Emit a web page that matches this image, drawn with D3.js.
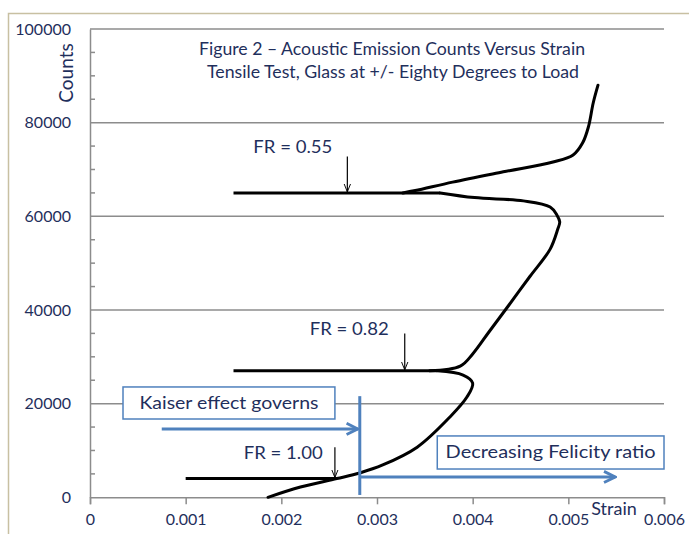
<!DOCTYPE html>
<html lang="en">
<head>
    <meta charset="utf-8">
    <script type="text/javascript" src="https://d3js.org/d3.v7.min.js"></script>
    <style>
        body { margin: 0; background: #fff; }
        text { font-family: Lato, "Open Sans", sans-serif; fill: #1f2f5c; }
    </style>
</head>

<body>
    <script type="text/javascript">
        // SVG width and height
        let w = 689;
        let h = 534;

        // Axis ticks
        let xTicks = [0, 0.001, 0.002, 0.003, 0.004, 0.005, 0.006];
        let xTickLabels = ["0", "0.001", "0.002", "0.003", "0.004", "0.005", "0.006"];
        let yTicks = [0, 20000, 40000, 60000, 80000, 100000];
        let yTickLabels = ["0", "20000", "40000", "60000", "80000", "100000"];

        // First loading branch: from start up to the 27000 count hold
        let strain1 = [0.00186, 0.00220, 0.00258, 0.00282, 0.00306, 0.00342, 0.00376, 0.00394, 0.00400, 0.00390, 0.00363];
        let counts1 = [0, 2200, 4000, 5200, 6900, 10700, 17100, 21400, 24400, 26100, 27000];

        // Second branch: from 27000 up to the 65000 count hold
        let strain2 = [0.00355, 0.00387, 0.00400, 0.00417, 0.00437, 0.00460, 0.00481, 0.00489, 0.00491, 0.00488, 0.00481, 0.00453, 0.00402, 0.00366];
        let counts2 = [27000, 28000, 30600, 35300, 40800, 47200, 53000, 57300, 58800, 60300, 62000, 63300, 64000, 65000];

        // Third branch: from 65000 to the end
        let strain3 = [0.00327, 0.00340, 0.00379, 0.00432, 0.00484, 0.00505, 0.00515, 0.00521, 0.00526, 0.00531];
        let counts3 = [65000, 65500, 67300, 69500, 71600, 73100, 75700, 79100, 84200, 88000];

        // Unload / reload holds (constant counts)
        let holdCounts = [4000, 27000, 65000];
        let holdStrainMin = [0.00100, 0.00150, 0.00150];
        let holdStrainMax = [0.00258, 0.00363, 0.00366];

        // Felicity ratio call-outs
        let frLabels = ["FR = 1.00", "FR = 0.82", "FR = 0.55"];
        let frStrain = [0.00256, 0.00329, 0.00269];
        let frArrowTop = [10700, 35000, 72800];
        let frLabelStrain = [0.00202, 0.00271, 0.00212];
        let frLabelCounts = [8200, 34700, 73500];

        // Kaiser / Felicity divider
        let dividerStrain = 0.00282;

        // Create SVG element
        let svg = d3.select("body").append("svg")
                    .attr("width", w)
                    .attr("height", h);

        // Outer chart frame
        svg.append("rect")
            .attr("x", 8.5).attr("y", 13.5)
            .attr("width", w).attr("height", h)
            .attr("fill", "none")
            .attr("stroke", "#c8c0a2")
            .attr("stroke-width", 1.5);

        // Scales
        let x = d3.scaleLinear().domain([0, 0.006]).range([90, 664]);
        let y = d3.scaleLinear().domain([0, 100000]).range([497.3, 29]);

        // Gridlines
        svg.selectAll(".grid")
            .data(yTicks.slice(1))
            .join("line")
                .attr("class", "grid")
                .attr("x1", x(0)).attr("x2", x(0.006))
                .attr("y1", d => y(d)).attr("y2", d => y(d))
                .attr("stroke", "#8c8c8c")
                .attr("stroke-width", 1.5);

        // Minor ticks on y axis (inside)
        let minor = d3.range(5000, 100000, 5000).filter(d => d % 20000 != 0);
        svg.selectAll(".minor")
            .data(minor)
            .join("line")
                .attr("class", "minor")
                .attr("x1", x(0)).attr("x2", x(0) + 5)
                .attr("y1", d => y(d)).attr("y2", d => y(d))
                .attr("stroke", "#8c8c8c")
                .attr("stroke-width", 1.5);

        // X axis
        let xAxis = svg.append("g")
            .attr("transform", "translate(0," + y(0) + ")")
            .call(d3.axisBottom(x)
                .tickValues(xTicks)
                .tickSize(7)
                .tickFormat((d, i) => xTickLabels[i]));
        xAxis.select(".domain").attr("stroke", "#8c8c8c").attr("stroke-width", 1.5);
        xAxis.selectAll(".tick line").attr("stroke", "#8c8c8c").attr("stroke-width", 1.5);
        xAxis.selectAll(".tick text")
            .attr("y", 28).attr("dy", 0)
            .attr("font-size", "16px")
            .attr("fill", "#1f2f5c")
            .style("font-family", "Lato, sans-serif");

        // Y axis
        let yAxis = svg.append("g")
            .attr("transform", "translate(" + x(0) + ",0)")
            .call(d3.axisLeft(y)
                .tickValues(yTicks)
                .tickSize(0)
                .tickPadding(19)
                .tickFormat((d, i) => yTickLabels[i]));
        yAxis.select(".domain").attr("stroke", "#8c8c8c").attr("stroke-width", 1.5);
        yAxis.selectAll(".tick text")
            .attr("font-size", "16px")
            .attr("fill", "#1f2f5c")
            .style("font-family", "Lato, sans-serif");

        // Axis titles
        svg.append("text")
            .attr("transform", "translate(73,73) rotate(-90)")
            .attr("text-anchor", "middle")
            .attr("font-size", "19px")
            .text("Counts");
        svg.append("text")
            .attr("x", 614).attr("y", 515)
            .attr("text-anchor", "middle")
            .attr("font-size", "18px")
            .text("Strain");

        // Chart title
        svg.append("text")
            .attr("x", 392).attr("y", 55)
            .attr("text-anchor", "middle")
            .attr("font-size", "17px")
            .attr("textLength", 386)
            .attr("lengthAdjust", "spacingAndGlyphs")
            .text("Figure 2 \u2013 Acoustic Emission Counts Versus Strain");
        svg.append("text")
            .attr("x", 393).attr("y", 78)
            .attr("text-anchor", "middle")
            .attr("font-size", "17px")
            .attr("textLength", 372)
            .attr("lengthAdjust", "spacingAndGlyphs")
            .text("Tensile Test, Glass at +/- Eighty Degrees to Load");

        // Curve line generator
        let line = d3.line()
            .x(d => x(d[0]))
            .y(d => y(d[1]))
            .curve(d3.curveCatmullRom.alpha(0.5));

        let branches = [
            d3.zip(strain1, counts1),
            d3.zip(strain2, counts2),
            d3.zip(strain3, counts3)
        ];

        svg.selectAll(".hold")
            .data(holdCounts)
            .join("line")
                .attr("class", "hold")
                .attr("x1", (d, i) => x(holdStrainMin[i]))
                .attr("x2", (d, i) => x(holdStrainMax[i]))
                .attr("y1", d => y(d)).attr("y2", d => y(d))
                .attr("stroke", "#000")
                .attr("stroke-width", 3);

        svg.selectAll(".branch")
            .data(branches)
            .join("path")
                .attr("class", "branch")
                .attr("d", line)
                .attr("fill", "none")
                .attr("stroke", "#000")
                .attr("stroke-width", 3)
                .attr("stroke-linecap", "round");

        // Arrow markers
        let defs = svg.append("defs");
        defs.append("marker")
            .attr("id", "blackHead")
            .attr("markerUnits", "userSpaceOnUse")
            .attr("viewBox", "0 0 10 10")
            .attr("refX", 10).attr("refY", 5)
            .attr("markerWidth", 8).attr("markerHeight", 8)
            .attr("orient", "auto")
            .append("path")
                .attr("d", "M0,1 L10,5 L0,9")
                .attr("fill", "none")
                .attr("stroke", "#000")
                .attr("stroke-width", 1.2);
        defs.append("marker")
            .attr("id", "blueHead")
            .attr("markerUnits", "userSpaceOnUse")
            .attr("viewBox", "0 0 10 10")
            .attr("refX", 9).attr("refY", 5)
            .attr("markerWidth", 14).attr("markerHeight", 14)
            .attr("orient", "auto")
            .append("path")
                .attr("d", "M1,1 L9,5 L1,9")
                .attr("fill", "none")
                .attr("stroke", "#4f81bd")
                .attr("stroke-width", 2);

        // FR arrows and labels
        svg.selectAll(".frArrow")
            .data(frLabels)
            .join("line")
                .attr("class", "frArrow")
                .attr("x1", (d, i) => x(frStrain[i]))
                .attr("x2", (d, i) => x(frStrain[i]))
                .attr("y1", (d, i) => y(frArrowTop[i]))
                .attr("y2", (d, i) => y(holdCounts[i]) - 1)
                .attr("stroke", "#000")
                .attr("stroke-width", 1.2)
                .attr("marker-end", "url(#blackHead)");
        svg.selectAll(".frLabel")
            .data(frLabels)
            .join("text")
                .attr("class", "frLabel")
                .attr("x", (d, i) => x(frLabelStrain[i]))
                .attr("y", (d, i) => y(frLabelCounts[i]))
                .attr("text-anchor", "middle")
                .attr("font-size", "18px")
                .attr("textLength", 79)
                .attr("lengthAdjust", "spacingAndGlyphs")
                .text(d => d);

        // Blue annotation: divider line
        let blue = "#4f81bd";
        svg.append("line")
            .attr("x1", x(dividerStrain)).attr("x2", x(dividerStrain))
            .attr("y1", y(21600)).attr("y2", y(500))
            .attr("stroke", blue)
            .attr("stroke-width", 3);

        // Blue arrows
        svg.append("line")
            .attr("x1", x(0.00075)).attr("x2", x(dividerStrain) - 2)
            .attr("y1", y(14600)).attr("y2", y(14600))
            .attr("stroke", blue).attr("stroke-width", 3)
            .attr("marker-end", "url(#blueHead)");
        svg.append("line")
            .attr("x1", x(dividerStrain)).attr("x2", x(0.00549))
            .attr("y1", y(4340)).attr("y2", y(4340))
            .attr("stroke", blue).attr("stroke-width", 3)
            .attr("marker-end", "url(#blueHead)");

        // Blue boxes
        let boxes = [
            { text: "Kaiser effect governs", len: 179, x0: 0.000345, x1: 0.00256, c0: 16720, c1: 23560 },
            { text: "Decreasing Felicity ratio", len: 210, x0: 0.00363, x1: 0.006, c0: 6040, c1: 13100 }
        ];
        let boxG = svg.selectAll(".box")
            .data(boxes)
            .join("g")
                .attr("class", "box");
        boxG.append("rect")
            .attr("x", d => x(d.x0))
            .attr("y", d => y(d.c1))
            .attr("width", d => x(d.x1) - x(d.x0))
            .attr("height", d => y(d.c0) - y(d.c1))
            .attr("fill", "#fff")
            .attr("stroke", blue)
            .attr("stroke-width", 1.5);
        boxG.append("text")
            .attr("x", d => (x(d.x0) + x(d.x1)) / 2)
            .attr("y", d => (y(d.c0) + y(d.c1)) / 2 + 6)
            .attr("text-anchor", "middle")
            .attr("font-size", "18px")
            .attr("textLength", d => d.len)
            .attr("lengthAdjust", "spacingAndGlyphs")
            .text(d => d.text);
    </script>
</body>
</html>
